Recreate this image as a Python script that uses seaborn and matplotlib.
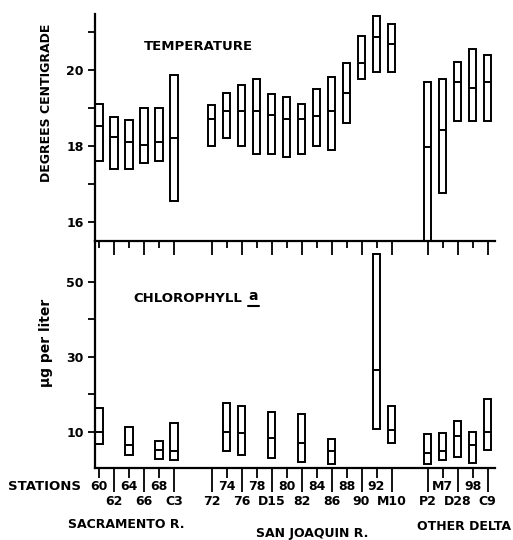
import numpy as np
import matplotlib
matplotlib.use("Agg")
import matplotlib.pyplot as plt
import seaborn as sns
from matplotlib.lines import Line2D

sns.set_theme(style="ticks")
plt.rcParams['font.family'] = ['DejaVu Sans']
plt.rcParams['font.weight'] = 'bold'
for key in ['text.color', 'axes.labelcolor', 'xtick.color', 'ytick.color', 'axes.edgecolor']:
    plt.rcParams[key] = 'black'

# stations by river group
sac_stations = ["60", "62", "64", "66", "68", "C3"]
sj_stations = ["72", "74", "76", "78", "D15", "80", "82", "84", "86", "88", "90", "92", "M10"]
delta_stations = ["P2", "M7", "D28", "98", "C9"]

# labels printed on the upper row (short ticks); the rest go on the lower row
upper_row = ["60", "64", "68", "74", "78", "80", "84", "88", "92", "M7", "98"]

# temperature, degrees C (min / mean / max)
temp_min = [17.6, 17.4, 17.4, 17.55, 17.6, 16.55,
            18.0, 18.2, 18.0, 17.8, 17.8, 17.7, 17.8, 18.0, 17.9, 18.6, 19.75, 19.95, 19.95,
            15.3, 16.75, 18.65, 18.65, 18.65]
temp_mean = [18.52, 18.23, 18.11, 18.03, 18.11, 18.22,
             18.71, 18.92, 18.92, 18.92, 18.81, 18.7, 18.7, 18.79, 18.93, 19.39, 20.17, 20.86, 20.68,
             17.96, 18.41, 19.69, 19.52, 19.69]
temp_max = [19.11, 18.77, 18.69, 19.0, 19.0, 19.87,
            19.08, 19.39, 19.61, 19.77, 19.37, 19.3, 19.11, 19.5, 19.8, 20.18, 20.89, 21.42, 21.21,
            19.69, 19.77, 20.2, 20.56, 20.39]

# chlorophyll a, ug per liter (only sampled stations)
chl_stations = ["60", "64", "68", "C3", "74", "76", "D15", "82", "86", "92", "M10",
                "P2", "M7", "D28", "98", "C9"]
chl_min = [6.7, 3.8, 2.7, 2.45, 4.7, 3.8, 2.9, 1.8, 1.4, 10.7, 6.9, 1.3, 2.3, 3.3, 1.7, 5.1]
chl_mean = [9.8, 6.3, 5.1, 4.7, 9.8, 9.6, 8.2, 6.9, 4.7, 26.3, 10.3, 4.2, 4.7, 8.7, 6.5, 9.8]
chl_max = [16.2, 11.3, 7.5, 12.4, 17.6, 16.9, 15.3, 14.7, 8.05, 57.4, 16.7, 9.3, 9.6, 12.9, 9.8, 18.8]

# x positions: one unit per station, gaps between the river groups
stations = sac_stations + sj_stations + delta_stations
xpos = {}
for start, group in [(0, sac_stations), (7.5, sj_stations), (21.9, delta_stations)]:
    for i, s in enumerate(group):
        xpos[s] = start + i

W, H = 513, 540
fig = plt.figure(figsize=(W / 100, H / 100), dpi=100)
ax1 = fig.add_axes([95 / W, 1 - 241 / H, 400 / W, 227 / H])
ax2 = fig.add_axes([95 / W, 1 - 468 / H, 400 / W, 227 / H], sharex=ax1)

box_w = 0.52
lw = 1.4


def draw_boxes(ax, names, lo, mid, hi):
    x = np.array([xpos[s] for s in names])
    lo, mid, hi = np.array(lo), np.array(mid), np.array(hi)
    ax.bar(x, hi - lo, bottom=lo, width=box_w, fill=False,
           edgecolor="black", linewidth=lw, clip_on=True)
    ax.hlines(mid, x - box_w / 2, x + box_w / 2, color="black", linewidth=lw)


draw_boxes(ax1, stations, temp_min, temp_mean, temp_max)
draw_boxes(ax2, chl_stations, chl_min, chl_mean, chl_max)

for ax in (ax1, ax2):
    ax.patch.set_visible(False)
    ax.spines['top'].set_visible(False)
    ax.spines['right'].set_visible(False)
    ax.spines['left'].set_linewidth(1.6)
    ax.spines['bottom'].set_linewidth(1.6)
    ax.tick_params(axis='y', which='both', length=5, width=1.3, direction='out',
                   labelsize=9, pad=3)

ax1.set_xlim(-0.27, 26.4)
ax1.set_ylim(15.5, 21.47)
ax1.set_yticks([16, 18, 20])
ax1.set_yticks([17, 19, 21], minor=True)
ax2.set_ylim(0.3, 60.8)
ax2.set_yticks([10, 30, 50])
ax2.set_yticks([20, 40], minor=True)

low = [s for s in stations if s not in upper_row]
up = [s for s in stations if s in upper_row]
ax2.set_xticks([xpos[s] for s in low])
ax2.set_xticklabels(low)
ax2.set_xticks([xpos[s] for s in up], minor=True)
ax2.set_xticklabels(up, minor=True)
ax2.tick_params(axis='x', which='major', length=17, width=1.3, pad=2.5, labelsize=9)
ax2.tick_params(axis='x', which='minor', length=7, width=1.3, pad=2, labelsize=9)

# ticks along the shared boundary, pointing down into the lower panel
ax1.tick_params(axis='x', which='major', length=10, width=1.3, direction='out', labelbottom=False)
ax1.tick_params(axis='x', which='minor', length=5, width=1.3, direction='out', labelbottom=False)

for lab in ax1.get_yticklabels() + ax2.get_yticklabels() + \
        ax2.get_xticklabels() + ax2.get_xticklabels(minor=True):
    lab.set_fontweight('bold')

fig.text(198 / W, 1 - 47 / H, "TEMPERATURE", ha='center', va='center', fontsize=9.5, weight='bold')
fig.text(133 / W, 1 - 298 / H, "CHLOROPHYLL", ha='left', va='center', fontsize=9.5, weight='bold')
fig.text(253 / W, 1 - 296 / H, "a", ha='center', va='center', fontsize=10, weight='bold')
fig.add_artist(Line2D([248 / W, 259 / W], [1 - 306 / H, 1 - 306 / H], color='black', linewidth=1.5))

fig.text(47 / W, 1 - 103 / H, "DEGREES CENTIGRADE", rotation=90, ha='center', va='center',
         fontsize=9, weight='bold')
fig.text(46 / W, 1 - 343 / H, "\u00b5g per liter", rotation=90, ha='center', va='center',
         fontsize=10, weight='bold')

fig.text(8 / W, 1 - 487 / H, "STATIONS", ha='left', va='center', fontsize=9.5, weight='bold')
fig.text(126 / W, 1 - 524 / H, "SACRAMENTO R.", ha='center', va='center', fontsize=9, weight='bold')
fig.text(312 / W, 1 - 533 / H, "SAN JOAQUIN R.", ha='center', va='center', fontsize=9, weight='bold')
fig.text(464 / W, 1 - 526 / H, "OTHER DELTA", ha='center', va='center', fontsize=9, weight='bold')

fig.savefig("out.png", dpi=100)
